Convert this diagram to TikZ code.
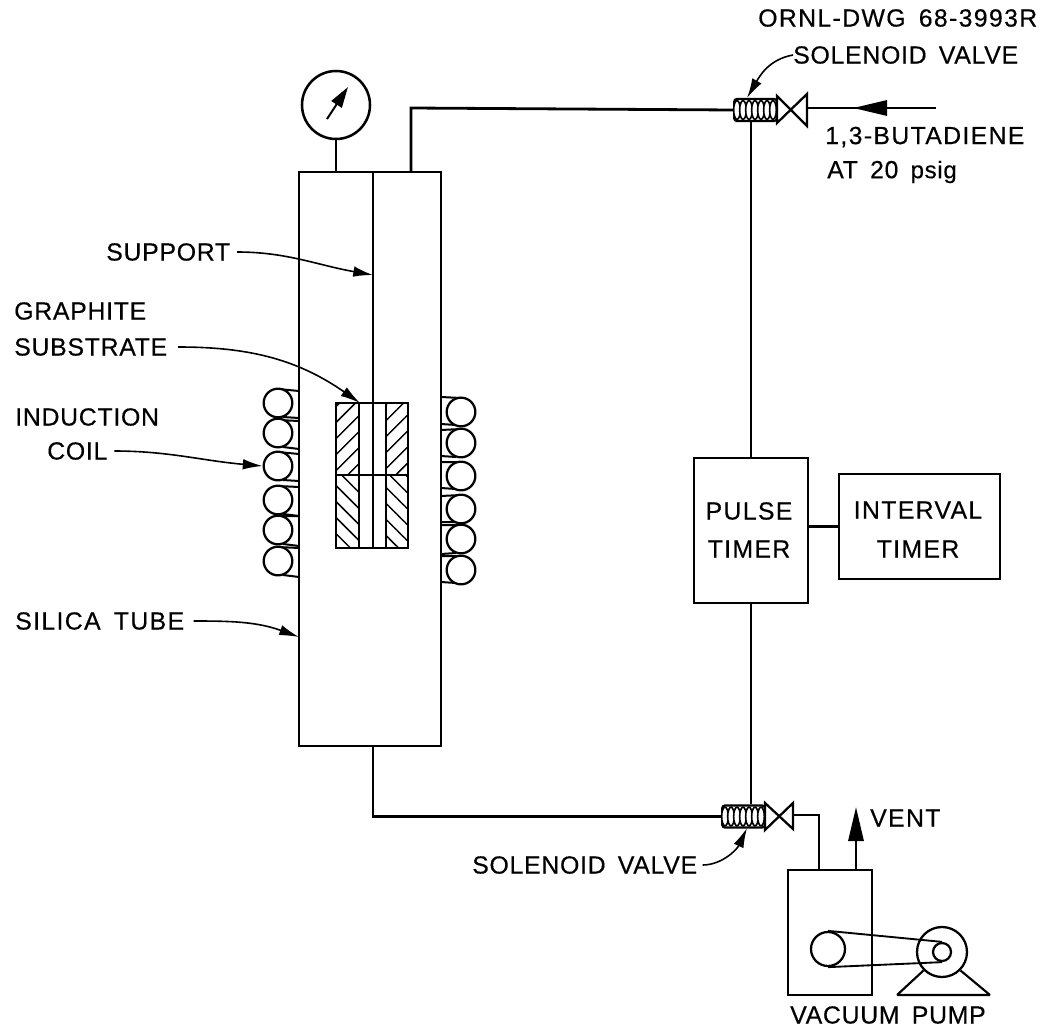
\documentclass[tikz,border=0pt]{standalone}
\usepackage{fontspec}
\setmainfont[LetterSpace=3, WordSpace=1.6, FakeBold=0.4]{Liberation Sans}
\usepackage{tikz}
\usetikzlibrary{arrows.meta, patterns.meta, positioning, shapes.geometric}

\begin{document}
\begin{tikzpicture}[x=0.75pt, y=-0.75pt]
    \tikzstyle{unit} = [shape=rectangle, draw=black, line width=1.8pt, inner sep=0pt];
    \tikzstyle{coil} = [shape=circle, draw=black, fill=white, line width=1.7pt, minimum size=21.5pt, inner sep=0pt];
    \tikzstyle{solenoid} = [shape=rectangle, draw=black, fill=white, line width=1.6pt, rounded corners=2pt, minimum width=32pt, minimum height=16.5pt, inner sep=0pt];
    \tikzstyle{ridge} = [shape=ellipse, draw=black, line width=1.2pt, fill=white, minimum width=5pt, minimum height=14pt, inner sep=0pt];
    \tikzstyle{lbl} = [anchor=west, inner sep=0pt, font=\fontsize{18.6}{20}\selectfont];
    \tikzstyle{lblwide} = [lbl, font=\fontsize{18.6}{20}\selectfont\addfontfeature{LetterSpace=5.5}];
    \tikzstyle{pipe} = [line width=2.1pt];
    \tikzstyle{tail} = [line width=1.5pt];
    \tikzstyle{leader} = [-{Latex[length=5.2mm,width=2.8mm]}, line width=1.2pt];
    \tikzstyle{flow} = [-{Triangle[length=9mm,width=4mm]}, line width=2.1pt];

    \useasboundingbox (0,0) rectangle (1046,1031);

    % reactor
    \node[unit, minimum width=106.5pt, minimum height=430.5pt](tube) at (370,459) {};
    \node[shape=circle, draw=black, line width=1.9pt, minimum size=51pt, inner sep=0pt](gauge) at (336,105) {};
    \coordinate (needle) at (327,119);
    \coordinate (needletip) at (348,87);
    \coordinate (tubeout) at (411,172);
    \coordinate (tubebase) at (373,746);

    % graphite
    \node[shape=rectangle, minimum width=17.25pt, minimum height=54pt, inner sep=0pt, pattern={Lines[angle=45,distance=8.5pt,line width=1.1pt]}](hatchA) at (347.5,439) {};
    \node[shape=rectangle, minimum width=17.25pt, minimum height=54pt, inner sep=0pt, pattern={Lines[angle=45,distance=8.5pt,line width=1.1pt]}](hatchB) at (397,439) {};
    \node[shape=rectangle, minimum width=17.25pt, minimum height=54.75pt, inner sep=0pt, pattern={Lines[angle=-45,distance=8.5pt,line width=1.1pt]}](hatchC) at (347.5,511.5) {};
    \node[shape=rectangle, minimum width=17.25pt, minimum height=54.75pt, inner sep=0pt, pattern={Lines[angle=-45,distance=8.5pt,line width=1.1pt]}](hatchD) at (397,511.5) {};
    \node[unit, minimum width=54pt, minimum height=108.75pt](block) at (372,475.5) {};
    \node[unit, line width=1.5pt, minimum width=20.25pt, minimum height=108.75pt](bore) at (372.5,475.5) {};
    \coordinate (midL) at (336,475);
    \coordinate (midR) at (408,475);
    \coordinate (supportend) at (373,548);
    \draw[line width=1.5pt] (midL) -- (midR);
    \draw[line width=1.5pt] (tube.north -| supportend) -- (supportend);

    % coil tails
    \draw[tail] (278,389) -- (299,391) (283,417) -- (299,418);
    \draw[tail] (278,420) -- (299,421) (283,447) -- (299,449);
    \draw[tail] (278,452) -- (299,454) (283,480) -- (299,481);
    \draw[tail] (278,486) -- (299,487) (283,514) -- (299,516);
    \draw[tail] (278,516) -- (299,516) (283,544) -- (299,546);
    \draw[tail] (278,547) -- (299,548) (283,575) -- (299,577);
    \draw[tail] (441,397) -- (461,398) (441,424) -- (456,425);
    \draw[tail] (441,430) -- (461,429) (441,456) -- (456,457);
    \draw[tail] (441,462) -- (461,462) (441,488) -- (456,489);
    \draw[tail] (441,496) -- (461,495) (441,522) -- (456,522);
    \draw[tail] (441,525) -- (461,525) (441,554) -- (456,553);
    \draw[tail] (441,556) -- (461,556) (441,582) -- (456,583);

    % coils
    \node[coil](L1) at (278,403) {};
    \node[coil](L2) at (278,433) {};
    \node[coil](L3) at (278,466) {};
    \node[coil](L4) at (278,500) {};
    \node[coil](L5) at (278,530) {};
    \node[coil](L6) at (278,561) {};
    \node[coil](R1) at (461,412) {};
    \node[coil](R2) at (461,443) {};
    \node[coil](R3) at (461,476) {};
    \node[coil](R4) at (461,509) {};
    \node[coil](R5) at (461,539) {};
    \node[coil](R6) at (461,570) {};

    % timers
    \node[unit, minimum width=85.5pt, minimum height=108.75pt](pulse) at (751,530.5) {};
    \node[unit, minimum width=120.75pt, minimum height=78.75pt](interval) at (919.5,526.5) {};
    \node[lblwide, anchor=center] at (749,511) {PULSE};
    \node[lblwide, anchor=center] at (749,549) {TIMER};
    \node[lblwide, anchor=center] at (918,510) {INTERVAL};
    \node[lblwide, anchor=center] at (918,549) {TIMER};

    % top valve
    \node[solenoid](soltop) at (755.5,110) {};
    \foreach \px in {737,743,749,755,761,767,773}
        \node[ridge] at (\px,110) {};
    \draw[line width=1.7pt, fill=white] (777,96) -- (807,126) -- (807,94) -- (777,123) -- cycle;
    \coordinate (valvetop) at (807,108);
    \coordinate (feedtip) at (853,108);
    \coordinate (feedbase) at (875,108);
    \coordinate (feedend) at (936,108);

    % bottom valve
    \node[solenoid](solbot) at (743.5,816.5) {};
    \foreach \px in {725,731,737,743,749,755,761}
        \node[ridge] at (\px,816.5) {};
    \draw[line width=1.7pt, fill=white] (765,803) -- (793,829) -- (793,803) -- (765,830) -- cycle;
    \coordinate (valvebot) at (793,815);

    % pump
    \node[unit, minimum width=63pt, minimum height=93.75pt](pump) at (830,932.5) {};
    \node[shape=circle, draw=black, line width=1.7pt, minimum size=25.5pt, inner sep=0pt](pulley) at (828,949) {};
    \node[shape=circle, draw=black, line width=1.7pt, minimum size=37.5pt, inner sep=0pt](motor) at (942,952) {};
    \node[shape=circle, draw=black, line width=1.7pt, minimum size=13.5pt, inner sep=0pt](shaft) at (942,952) {};
    \coordinate (pumpin) at (819,870);
    \coordinate (pumpout) at (856,870);
    \coordinate (venttip) at (856,807);
    \coordinate (footL) at (897,995);
    \coordinate (footR) at (990,995);
    \draw[line width=1.6pt] (footL) -- (motor.225) (footR) -- (motor.-45) (footL) -- (footR);
    \draw[line width=1.4pt] (pulley.90) -- (shaft.90) (pulley.-90) -- (shaft.-90);

    % piping
    \draw[pipe] (gauge) -- (gauge |- tube.north);
    \draw[pipe] (tubeout) -- (tubeout |- valvetop) -- (soltop.west);
    \draw[pipe] (pulse.north) -- (pulse.north |- soltop.south);
    \draw[pipe] (pulse.south) -- (pulse.south |- solbot.north);
    \draw[pipe] (tubebase) -- (tubebase |- solbot.west) -- (solbot.west);
    \draw[line width=2.6pt] (pulse.east |- interval.west) -- (interval.west);
    \draw[pipe] (valvebot) -- (pumpin |- valvebot) -- (pumpin);
    \draw[pipe] (valvetop) -- (feedbase);
    \draw[flow] (feedend) -- (feedtip);
    \draw[flow] (pumpout) -- (venttip);
    \draw[-{Triangle[length=5.5mm,width=3.2mm]}, line width=1.5pt] (needle) -- (needletip);

    % labels
    \node[lblwide](dwg) at (758,18) {ORNL-DWG 68-3993R};
    \node[lbl](soltoplbl) at (793,55) {SOLENOID VALVE};
    \node[lblwide](feedlbl) at (825,137) {1,3-BUTADIENE};
    \node[lbl](pressure) at (827,172) {AT 20 {\fontsize{18}{19}\selectfont psig}};
    \node[lbl](support) at (106,252) {SUPPORT};
    \node[lbl](graphite) at (14,311) {GRAPHITE};
    \node[lbl](substrate) at (14,347) {SUBSTRATE};
    \node[lbl](induction) at (15,417) {INDUCTION};
    \node[lbl](coillbl) at (47,451) {COIL};
    \node[lblwide](silica) at (15,621) {SILICA TUBE};
    \node[lbl](solbotlbl) at (472,865) {SOLENOID VALVE};
    \node[lblwide](vent) at (870,818) {VENT};
    \node[lbl](vacuum) at (790,1015) {VACUUM PUMP};

    % leaders
    \draw[leader, shorten <=5pt] (support.east) to[out=0, in=170] (373,275);
    \draw[leader, shorten <=8pt] (substrate.east) to[out=0, in=145] (360,403);
    \draw[leader, shorten <=5pt] (coillbl.east) to[out=0, in=175] (L3.west);
    \draw[leader, shorten <=7pt] (silica.east) to[out=0, in=160] (299,637);
    \draw[leader] (soltoplbl.west) to[out=190, in=60] (747,98);
    \draw[leader, shorten <=4pt] (solbotlbl.east) to[out=0, in=245] (747,828);
\end{tikzpicture}
\end{document}
